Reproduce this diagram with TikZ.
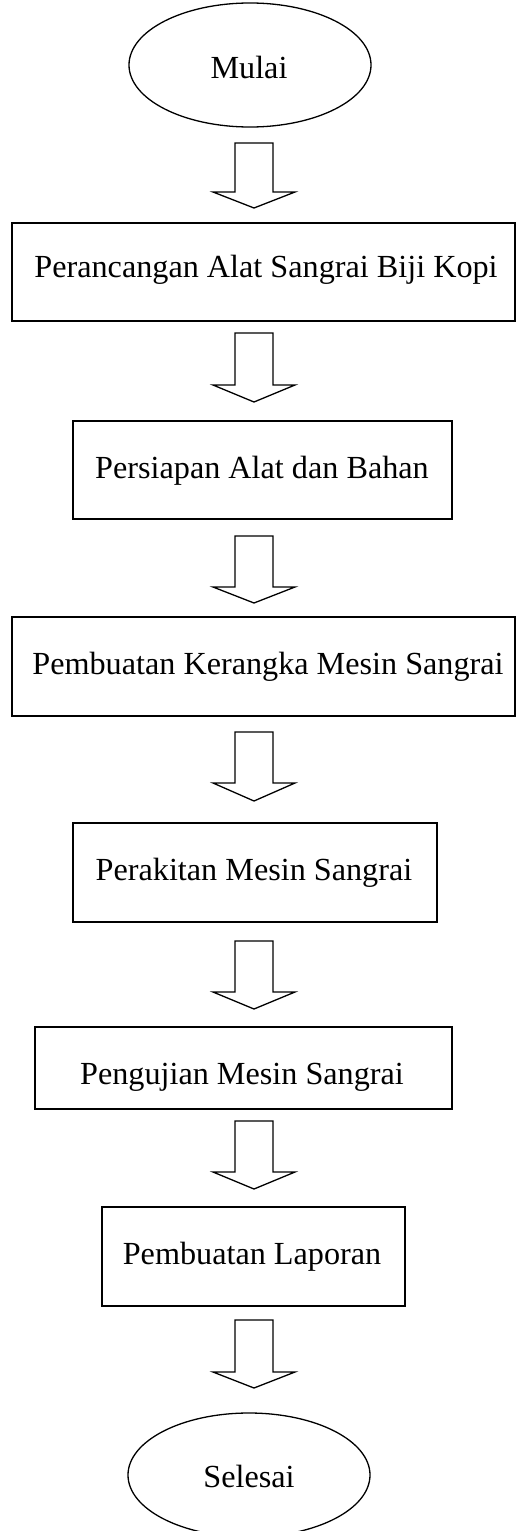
\documentclass[tikz,border=0pt]{standalone}
\usepackage{fontspec}
\setmainfont{Liberation Serif}
\usetikzlibrary{shapes.geometric}
\newcommand{\blkarrow}[4]{% name, top, shaft bottom, tip
  \draw[arrowshape] (235,#2) -- (273,#2) -- (273,#3) -- (295,#3) -- (254,#4) -- (213,#3) -- (235,#3) -- cycle;
  \coordinate (#1) at (254,#4);}
\begin{document}
\begin{tikzpicture}[x=1pt,y=-1pt,
  arrowshape/.style={line width=1.3pt, line join=miter},
  boxshape/.style={draw, rectangle, line width=1.4pt, inner sep=0pt, outer sep=0pt},
  lbl/.style={font=\fontsize{32.2}{38}\selectfont, anchor=base, inner sep=0pt},
  term/.style={draw, ellipse, line width=1.3pt, inner sep=0pt, outer sep=0pt, minimum width=242pt, minimum height=124pt}]
\useasboundingbox (0,0) rectangle (516,1531);
% start
\node[term] (start) at (250,65) {};
\node[lbl] (mulai) at (249,78) {Mulai};
\blkarrow{a1}{143}{192}{208}
% box 1
\node[boxshape, minimum width=503pt, minimum height=98pt] (b1) at (263.5,272) {};
\node[lbl] (t1) at (266,277) {Perancangan Alat Sangrai Biji Kopi};
\blkarrow{a2}{333}{385}{402}
% box 2
\node[boxshape, minimum width=379pt, minimum height=98pt] (b2) at (262.5,470) {};
\node[lbl] (t2) at (262,478) {Persiapan Alat dan Bahan};
\blkarrow{a3}{536}{587}{603}
% box 3
\node[boxshape, minimum width=503pt, minimum height=99pt] (b3) at (263.5,666.5) {};
\node[lbl] (t3) at (268,674) {Pembuatan Kerangka Mesin Sangrai};
\blkarrow{a4}{732}{783}{801}
% box 4
\node[boxshape, minimum width=364pt, minimum height=99pt] (b4) at (255,872.5) {};
\node[lbl] (t4) at (254,880) {Perakitan Mesin Sangrai};
\blkarrow{a5}{941}{992}{1009}
% box 5
\node[boxshape, minimum width=417pt, minimum height=82pt] (b5) at (243.5,1068) {};
\node[lbl] (t5) at (242,1084) {Pengujian Mesin Sangrai};
\blkarrow{a6}{1121}{1172}{1189}
% box 6
\node[boxshape, minimum width=303pt, minimum height=99pt] (b6) at (253.5,1256.5) {};
\node[lbl] (t6) at (252,1264) {Pembuatan Laporan};
\blkarrow{a7}{1320}{1372}{1388}
% end
\node[term] (stop) at (249,1475) {};
\node[lbl] (selesai) at (249,1487) {Selesai};
\end{tikzpicture}
\end{document}
